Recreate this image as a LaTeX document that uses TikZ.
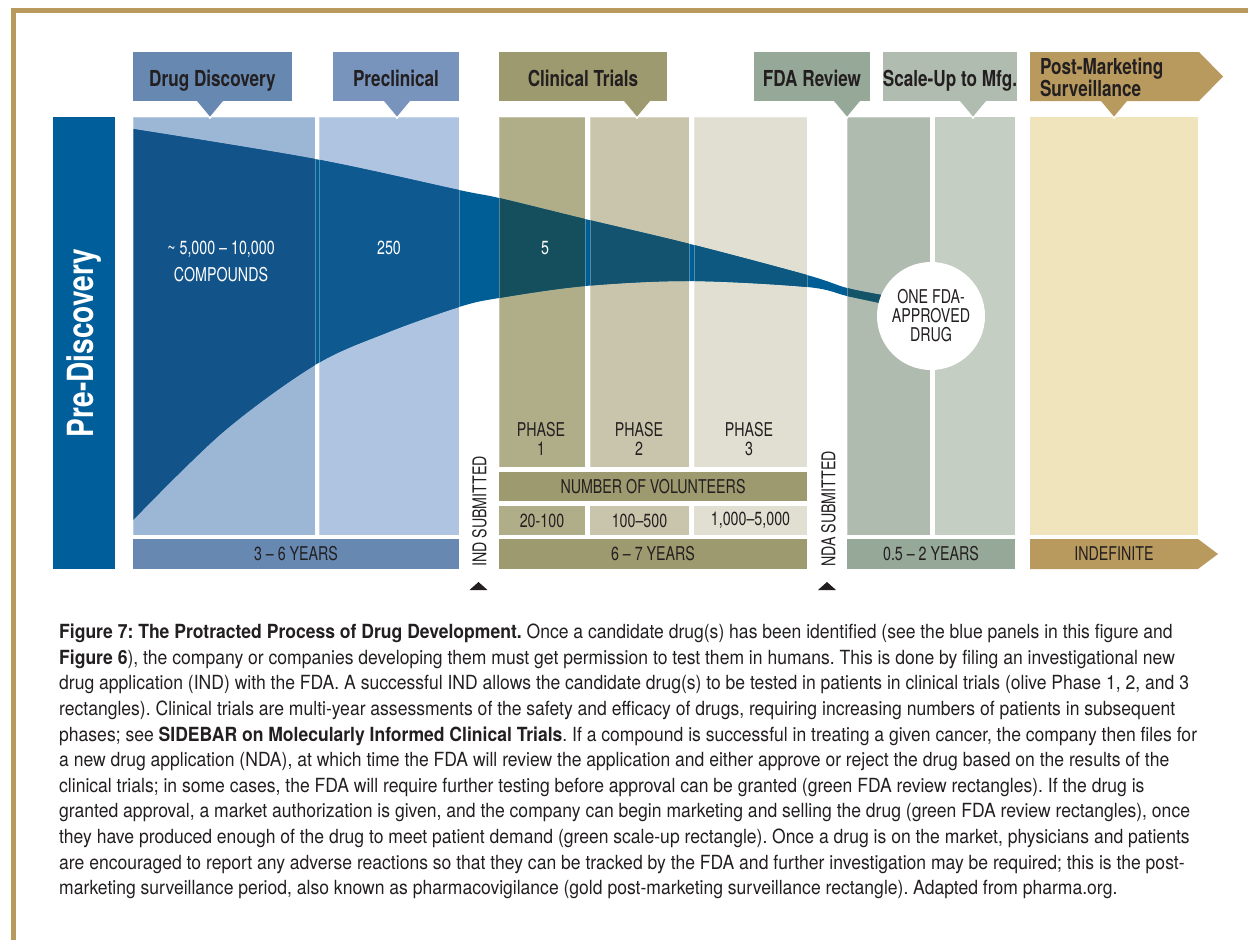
\documentclass[tikz,border=0pt]{standalone}
\usepackage{fontspec}
\setmainfont{TeX Gyre Heros}
\newfontfamily\headfont[FakeStretch=0.78]{TeX Gyre Heros}
\newfontfamily\bodyfont[FakeStretch=0.75]{TeX Gyre Heros}
\newfontfamily\capfont[FakeStretch=0.9]{TeX Gyre Heros}
\usetikzlibrary{positioning}
\frenchspacing

\definecolor{textdark}{HTML}{231F20}
\definecolor{framegold}{HTML}{B89A5E}
\definecolor{prebar}{HTML}{005E9A}
\definecolor{hdisccol}{HTML}{6688B1}
\definecolor{hprecol}{HTML}{7894BC}
\definecolor{hclincol}{HTML}{9C9A6E}
\definecolor{hfdacol}{HTML}{96A898}
\definecolor{hscalecol}{HTML}{B0BCAF}
\definecolor{pdisccol}{HTML}{9CB6D5}
\definecolor{pprecol}{HTML}{AEC4E1}
\definecolor{ph1col}{HTML}{B0AD89}
\definecolor{ph2col}{HTML}{C9C5AC}
\definecolor{ph3col}{HTML}{E0DFD2}
\definecolor{pfdacol}{HTML}{B0BBAF}
\definecolor{pscalecol}{HTML}{C5CEC3}
\definecolor{ppostcol}{HTML}{F0E4BD}
\definecolor{fbase}{HTML}{005E96}
\definecolor{fdisc}{HTML}{12538A}
\definecolor{fpre}{HTML}{0E5990}
\definecolor{fph1}{HTML}{154F5E}
\definecolor{fph2}{HTML}{13536F}
\definecolor{fph3}{HTML}{0D5880}
\definecolor{ffda}{HTML}{145468}

\newcommand{\funnelfill}[1]{%
  \fill[#1] plot[smooth,tension=0.55] coordinates {(133,129) (315,159) (459,190) (499,198) (585,219) (690,244) (807,275) (847,288) (882,295)}
    -- plot[smooth,tension=0.55] coordinates {(880,303) (847,296) (807,287) (690,281) (585,286) (499,298) (459,307) (386,333) (315,365) (223,432) (133,520)} -- cycle;}
\newcommand{\clipfunnel}[2]{%
  \begin{scope}
    \clip (#1.south west) rectangle (#1.north east);
    \funnelfill{#2}
  \end{scope}}

\begin{document}
\begin{tikzpicture}[x=1pt,y=-1pt,
  panel/.style={inner sep=0,outer sep=0},
  headtext/.style={inner sep=0,outer sep=0,text=textdark,
    font=\headfont\bfseries\fontsize{22}{22}\selectfont},
  header/.style={headtext,minimum height=49,text height=22,text depth=3},
  bar/.style={minimum height=30,inner sep=0,outer sep=0,text=textdark,
    font=\bodyfont\fontsize{19}{21}\selectfont},
  label/.style={inner sep=0,text=textdark,align=center,
    font=\bodyfont\fontsize{19}{19}\selectfont},
  count/.style={inner sep=0,text=white,align=center,
    font=\bodyfont\fontsize{19}{27}\selectfont},
  pointer/.style={draw=white,line width=1.5,line join=miter},
  edge/.style={draw=white,opacity=.3,line width=.8}
]
  \useasboundingbox (0,0) rectangle (1248,940);
  \fill[framegold] (11,7.5) rectangle (1248,12.5);
  \fill[framegold] (11,7.5) rectangle (16,940);

  \node[panel,fill=prebar,minimum width=62,minimum height=452] (prebar) at (84,343) {};
  \node[rotate=90,text=white,inner sep=0,font=\headfont\bfseries\fontsize{36}{36}\selectfont] (pretext) at (prebar.center) {Pre-Discovery};

  \node[panel,fill=pdisccol,minimum width=182,minimum height=418] (pdisc) at (224,326) {};
  \node[panel,fill=pprecol,minimum width=140,minimum height=418] (ppre) at (389,326) {};
  \node[panel,fill=ph1col,minimum width=86,minimum height=350] (pph1) at (542,292) {};
  \node[panel,fill=ph2col,minimum width=99,minimum height=350] (pph2) at (639.5,292) {};
  \node[panel,fill=ph3col,minimum width=113,minimum height=350] (pph3) at (750.5,292) {};
  \node[panel,fill=pfdacol,minimum width=83,minimum height=418] (pfda) at (888.5,326) {};
  \node[panel,fill=pscalecol,minimum width=80,minimum height=418] (pscale) at (975,326) {};
  \node[panel,fill=ppostcol,minimum width=168,minimum height=418] (ppost) at (1114,326) {};

  \funnelfill{fbase}
  \clipfunnel{pdisc}{fdisc}
  \clipfunnel{ppre}{fpre}
  \clipfunnel{pph1}{fph1}
  \clipfunnel{pph2}{fph2}
  \clipfunnel{pph3}{fph3}
  \clipfunnel{pfda}{ffda}
  \foreach \p in {pdisc,ppre,pph1,pph2,pph3,pfda}
    \draw[edge] (\p.south west) rectangle (\p.north east);

  \node[count] (compounds) at (221,261) {\textasciitilde\ 5,000 \textendash\ 10,000\\COMPOUNDS};
  \node[count] (n250) at (389,248) {250};
  \node[count] (n5) at (545,248) {5};
  \node[circle,fill=white,minimum size=108,inner sep=0,text=textdark,align=center,
    font=\bodyfont\fontsize{19}{19}\selectfont] (approved) at (931,316) {ONE FDA-\\APPROVED\\DRUG};

  \node[label] (phase1) at (541,439) {PHASE\\1};
  \node[label] (phase2) at (639,439) {PHASE\\2};
  \node[label] (phase3) at (749,439) {PHASE\\3};

  \node[bar,fill=hclincol,minimum width=308,minimum height=29] (volunteers) at (653,486.5) {NUMBER OF VOLUNTEERS};
  \node[bar,fill=ph1col,minimum width=86,minimum height=29] (vol1) at (542,520.5) {20-100};
  \node[bar,fill=ph2col,minimum width=99,minimum height=29] (vol2) at (639.5,520.5) {100\textendash500};
  \node[bar,fill=ph3col,minimum width=113,minimum height=29] (vol3) at (750.5,520.5) {1,000\textendash5,000};

  \node[bar,fill=hdisccol,minimum width=326] (years1) at (296,554) {3 \textendash\ 6 YEARS};
  \node[bar,fill=hclincol,minimum width=308] (years2) at (653,554) {6 \textendash\ 7 YEARS};
  \node[bar,fill=hfdacol,minimum width=168] (years3) at (931,554) {0.5 \textendash\ 2 YEARS};
  \fill[framegold] (1030,539) -- (1198,539) -- (1218,554) -- (1198,569) -- (1030,569) -- cycle;
  \node[bar] (years4) at (1114,554) {INDEFINITE};

  \node[label,rotate=90] (ind) at (479.5,511.5) {IND SUBMITTED};
  \node[label,rotate=90] (nda) at (828.5,509) {NDA SUBMITTED};
  \fill[textdark] (469.5,590) -- (478.5,582) -- (487.5,590) -- cycle;
  \fill[textdark] (818,590) -- (827,582) -- (836,590) -- cycle;

  \fill[hdisccol,pointer] (195,100) -- (210,118) -- (225,100) -- cycle;
  \fill[hprecol,pointer] (382,100) -- (397,118) -- (412,100) -- cycle;
  \fill[hclincol,pointer] (622,100) -- (637,118) -- (652,100) -- cycle;
  \fill[hfdacol,pointer] (832,100) -- (847,118) -- (862,100) -- cycle;
  \fill[hscalecol,pointer] (958,100) -- (973,118) -- (988,100) -- cycle;
  \fill[framegold,pointer] (1099,100) -- (1114,118) -- (1129,100) -- cycle;

  \node[header,fill=hdisccol,minimum width=159] (hdisc) at (212.5,76.5) {Drug Discovery};
  \node[header,fill=hprecol,minimum width=126] (hpre) at (396,76.5) {Preclinical};
  \node[header,fill=hclincol,minimum width=168] (hclin) at (583,76.5) {Clinical Trials};
  \node[header,fill=hfdacol,minimum width=116] (hfda) at (812,76.5) {FDA Review};
  \node[header,fill=hscalecol,minimum width=130] (hscale) at (950,76.5) {Scale-Up to Mfg.};
  \fill[framegold] (1030,52) -- (1199,52) -- (1223,76.5) -- (1199,101) -- (1030,101) -- cycle;
  \node[headtext,anchor=west,align=left] (hpost) at (1040,77) {Post-Marketing\\Surveillance};

  \node[anchor=north west,inner sep=0,align=left,text=textdark,
    font=\capfont\fontsize{19.5}{25.6}\selectfont] (caption) at (59,624) {%
    \textbf{Figure 7: The Protracted Process of Drug Development.} Once a candidate drug(s) has been identified (see the blue panels in this figure and\\
    \textbf{Figure 6}), the company or companies developing them must get permission to test them in humans. This is done by filing an investigational new\\
    drug application (IND) with the FDA. A successful IND allows the candidate drug(s) to be tested in patients in clinical trials (olive Phase 1, 2, and 3\\
    rectangles). Clinical trials are multi-year assessments of the safety and efficacy of drugs, requiring increasing numbers of patients in subsequent\\
    phases; see \textbf{SIDEBAR on Molecularly Informed Clinical Trials}. If a compound is successful in treating a given cancer, the company then files for\\
    a new drug application (NDA), at which time the FDA will review the application and either approve or reject the drug based on the results of the\\
    clinical trials; in some cases, the FDA will require further testing before approval can be granted (green FDA review rectangles). If the drug is\\
    granted approval, a market authorization is given, and the company can begin marketing and selling the drug (green FDA review rectangles), once\\
    they have produced enough of the drug to meet patient demand (green scale-up rectangle). Once a drug is on the market, physicians and patients\\
    are encouraged to report any adverse reactions so that they can be tracked by the FDA and further investigation may be required; this is the post-\\
    marketing surveillance period, also known as pharmacovigilance (gold post-marketing surveillance rectangle). Adapted from pharma.org.};
\end{tikzpicture}
\end{document}
